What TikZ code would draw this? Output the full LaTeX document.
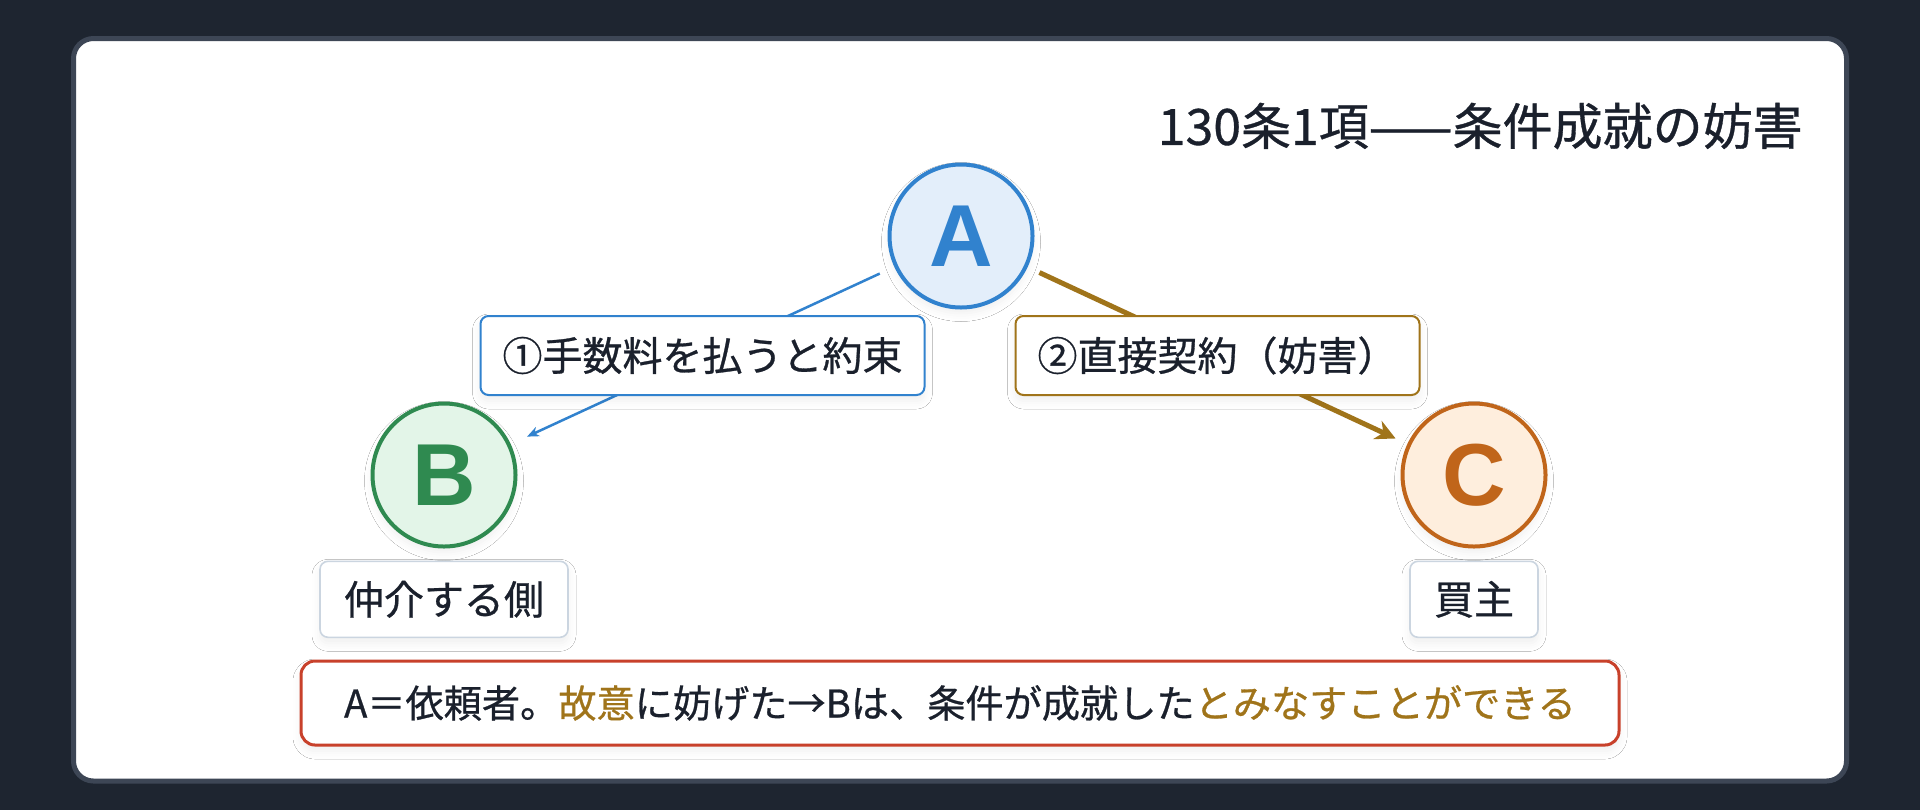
\documentclass[tikz,border=0pt]{standalone}
\usepackage{fontspec}
\setmainfont[UprightFeatures={FakeBold=0.7}]{Noto Sans CJK JP}
\newfontfamily\letterfont{Liberation Sans}
\usetikzlibrary{arrows.meta, positioning, shadows.blur}
\definecolor{bgdark}{HTML}{1E2530}
\definecolor{cardline}{HTML}{3D4655}
\definecolor{inkdark}{HTML}{1A202C}
\definecolor{blueline}{HTML}{3182CE}
\definecolor{bluefill}{HTML}{E3EEFA}
\definecolor{greenline}{HTML}{2F8A50}
\definecolor{greenfill}{HTML}{E3F5E8}
\definecolor{orangeline}{HTML}{C0651A}
\definecolor{orangefill}{HTML}{FEEEDD}
\definecolor{goldline}{HTML}{A0741A}
\definecolor{redline}{HTML}{C8412B}
\definecolor{grayline}{HTML}{CBD5E0}

\tikzset{
  softshadow/.style={blur shadow={shadow xshift=0pt, shadow yshift=-3pt, shadow blur radius=4pt, shadow opacity=6}},
  party/.style={circle, draw=#1line, fill=#1fill, line width=2pt, minimum size=71.5pt, inner sep=0pt,
    text=#1line, font=\letterfont\fontsize{44}{44}\selectfont\bfseries, softshadow},
  termbox/.style={draw=#1, fill=white, line width=1pt, rounded corners=4pt, inner xsep=11pt,
    minimum height=39.5pt, text=inkdark, font=\fontsize{20}{20}\selectfont, softshadow},
  rolebox/.style={draw=grayline, fill=white, line width=0.8pt, rounded corners=4pt, inner xsep=12pt,
    minimum height=38pt, text=inkdark, font=\fontsize{20}{20}\selectfont, softshadow},
}

\begin{document}
\begin{tikzpicture}[x=0.5pt, y=-0.5pt]
        % page and card
        \fill[bgdark] (0,0) rectangle (1920,810);
        \draw[draw=cardline, fill=white, line width=2.5pt, rounded corners=10pt] (73.5,38.5) rectangle (1846.5,781);

        \node[anchor=east, inner sep=0pt, text=inkdark, font=\fontsize{25}{25}\selectfont] (title) at (1803,126) {130条1項——条件成就の妨害};

        % the three parties
        \node[party=blue] (A) at (961,236) {A};
        \node[party=green] (B) at (444,475) {B};
        \node[party=orange] (C) at (1474,475) {C};

        \node[rolebox, below=6pt of B] (Brole) {仲介する側};
        \node[rolebox, below=6pt of C] (Crole) {買主};

        % promise and direct contract
        \draw[blueline, line width=1.25pt, shorten <=8pt, shorten >=9pt, -{Stealth[length=6pt, width=5pt]}]
          (A) -- node[termbox=blueline] (promise) {①手数料を払うと約束} (B);
        \draw[goldline, line width=2.5pt, shorten <=6.5pt, shorten >=6.5pt, -{Stealth[length=10pt, width=10pt]}]
          (A) -- node[termbox=goldline] (contract) {②直接契約（妨害）} (C);

        % conclusion
        \node[draw=redline, fill=white, line width=1.5pt, rounded corners=7pt, minimum width=659pt, minimum height=42pt,
          text=inkdark, font=\fontsize{19.1}{19.1}\selectfont, softshadow] (rule) at (960,703)
          {A＝依頼者。\textcolor{goldline}{故意}に妨げた→Bは、条件が成就した\textcolor{goldline}{とみなすことができる}};
      \end{tikzpicture}
\end{document}
